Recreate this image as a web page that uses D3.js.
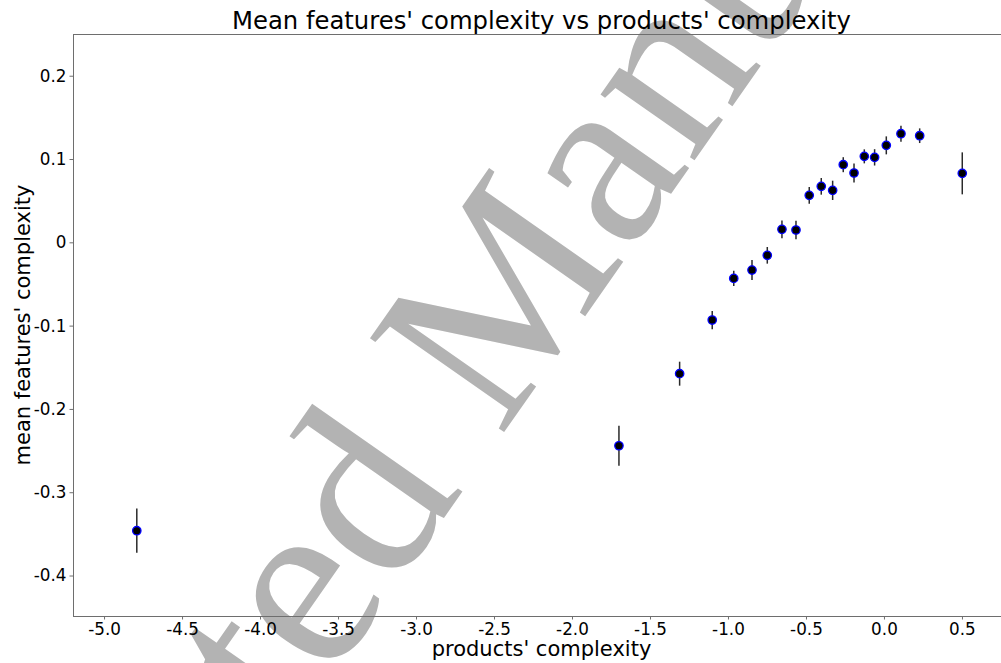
<!DOCTYPE html>
<html>
<head>
<meta charset="utf-8">
<script src="https://cdn.jsdelivr.net/npm/d3@7"></script>
<style>
  html, body { margin: 0; padding: 0; background: #fff; }
  svg { display: block; }
</style>
</head>
<body>
<svg id="chart" width="1001" height="663"></svg>
<script>
// ---- data ----
const productComplexity = [-4.790, -1.699, -1.310, -1.101, -0.963, -0.846, -0.748, -0.654, -0.564, -0.479,
                           -0.402, -0.329, -0.261, -0.192, -0.126, -0.060, 0.015, 0.109, 0.229, 0.502];
const meanFeatureComplexity = [-0.3462, -0.2442, -0.1577, -0.0933, -0.0433, -0.0333, -0.0156, 0.0156, 0.0148, 0.0564,
                               0.0672, 0.0624, 0.0932, 0.0832, 0.1032, 0.1020, 0.1164, 0.1304, 0.1280, 0.0828];
const errorHalf = [0.0266, 0.0240, 0.0144, 0.0110, 0.0092, 0.0120, 0.0100, 0.0106, 0.0110, 0.0100,
                   0.0100, 0.0116, 0.0090, 0.0114, 0.0084, 0.0098, 0.0108, 0.0096, 0.0088, 0.0252];
const xTicks = [-5.0, -4.5, -4.0, -3.5, -3.0, -2.5, -2.0, -1.5, -1.0, -0.5, 0.0, 0.5];
const xTickLabels = ["-5.0", "-4.5", "-4.0", "-3.5", "-3.0", "-2.5", "-2.0", "-1.5", "-1.0", "-0.5", "0.0", "0.5"];
const yTicks = [-0.4, -0.3, -0.2, -0.1, 0, 0.1, 0.2];
const yTickLabels = ["-0.4", "-0.3", "-0.2", "-0.1", "0", "0.1", "0.2"];
const titleText = "Mean features' complexity vs products' complexity";
const xLabelText = "products' complexity";
const yLabelText = "mean features' complexity";
const watermarkText = "Accepted Manuscript";

// ---- layout ----
const W = 1001, H = 663;
const plot = { left: 73, right: 1010, top: 34, bottom: 616 };
const svg = d3.select("#chart");

const x = d3.scaleLinear().domain([-5.199, 0.808]).range([plot.left, plot.right]);
const y = d3.scaleLinear().domain([-0.4486, 0.2501]).range([plot.bottom, plot.top]);

const font = "'DejaVu Sans', sans-serif";
const spineColor = "#6e6e6e";

// ---- watermark (behind everything) ----
const wmAngle = -55;
const wm = svg.append("text")
  .attr("font-family", "'Liberation Serif', 'Times New Roman', serif")
  .attr("font-size", 250)
  .attr("fill", "#b3b3b3")
  .text(watermarkText);
const prefixLen = wm.node().getSubStringLength(0, 9); // "Accepted "
const mOrigin = [500, 438];
const rad = wmAngle * Math.PI / 180;
const sx = mOrigin[0] - prefixLen * Math.cos(rad);
const sy = mOrigin[1] - prefixLen * Math.sin(rad);
wm.attr("transform", `translate(${sx},${sy}) rotate(${wmAngle})`);

// ---- axes ----
const xAxis = d3.axisBottom(x).tickValues(xTicks)
  .tickFormat((d, i) => xTickLabels[i]).tickSize(3.5).tickPadding(4);
const yAxis = d3.axisLeft(y).tickValues(yTicks)
  .tickFormat((d, i) => yTickLabels[i]).tickSize(3.5).tickPadding(3);

const gx = svg.append("g").attr("transform", `translate(0,${plot.bottom})`).call(xAxis);
const gy = svg.append("g").attr("transform", `translate(${plot.left},0)`).call(yAxis);
[gx, gy].forEach(g => {
  g.select(".domain").remove();
  g.selectAll(".tick line").attr("stroke", spineColor).attr("stroke-width", 1);
  g.selectAll(".tick text").attr("fill", "#000").attr("font-family", font).attr("font-size", 16.8);
});
gx.selectAll(".tick text").attr("dy", "0.68em");

// spines
const spines = svg.append("g").attr("stroke", spineColor).attr("stroke-width", 1).attr("fill", "none");
spines.append("line").attr("x1", plot.left).attr("x2", plot.right).attr("y1", plot.top + 0.5).attr("y2", plot.top + 0.5);
spines.append("line").attr("x1", plot.left).attr("x2", plot.right).attr("y1", plot.bottom + 0.5).attr("y2", plot.bottom + 0.5);
spines.append("line").attr("x1", plot.left + 0.5).attr("x2", plot.left + 0.5).attr("y1", plot.top).attr("y2", plot.bottom);
spines.append("line").attr("x1", plot.right + 0.5).attr("x2", plot.right + 0.5).attr("y1", plot.top).attr("y2", plot.bottom);

// ---- error bars & points ----
const data = productComplexity.map((d, i) => ({ x: d, y: meanFeatureComplexity[i], e: errorHalf[i] }));

svg.append("g").selectAll("line").data(data).join("line")
  .attr("x1", d => x(d.x)).attr("x2", d => x(d.x))
  .attr("y1", d => y(d.y - d.e)).attr("y2", d => y(d.y + d.e))
  .attr("stroke", "#2a2a2a").attr("stroke-width", 1.5);

svg.append("g").selectAll("circle").data(data).join("circle")
  .attr("cx", d => x(d.x)).attr("cy", d => y(d.y))
  .attr("r", 4.2)
  .attr("fill", "#000")
  .attr("stroke", "#0000ff").attr("stroke-width", 1.3);

// ---- titles ----
svg.append("text")
  .attr("x", (plot.left + plot.right) / 2).attr("y", 29)
  .attr("text-anchor", "middle")
  .attr("font-family", font).attr("font-size", 24.3)
  .attr("fill", "#000")
  .text(titleText);

svg.append("text")
  .attr("x", (plot.left + plot.right) / 2).attr("y", 656)
  .attr("text-anchor", "middle")
  .attr("font-family", font).attr("font-size", 21)
  .attr("fill", "#000")
  .text(xLabelText);

svg.append("text")
  .attr("transform", `translate(30,${(plot.top + plot.bottom) / 2}) rotate(-90)`)
  .attr("text-anchor", "middle")
  .attr("font-family", font).attr("font-size", 21)
  .attr("fill", "#000")
  .text(yLabelText);
</script>
</body>
</html>
